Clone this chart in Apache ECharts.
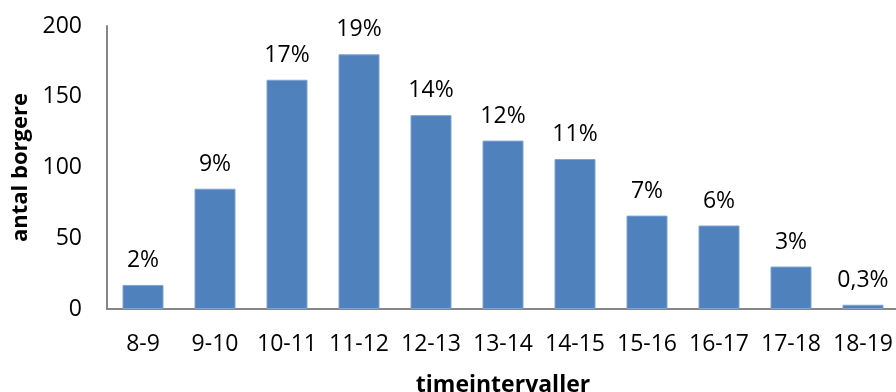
<!DOCTYPE html>
<html>
<head>
    <meta charset="utf-8">
    <script src="https://cdn.jsdelivr.net/npm/echarts@6/dist/echarts.min.js"></script>
</head>
<body style="margin:0;">
    <div id="main" style="width: 896px;height:392px;"></div>
    <script type="text/javascript">
        // timeintervaller og antal borgere
        var categories = ['8-9', '9-10', '10-11', '11-12', '12-13', '13-14', '14-15', '15-16', '16-17', '17-18', '18-19'];
        var values = [17, 85, 162, 180, 137, 119, 106, 66, 59, 30, 3];
        var percentLabels = ['2%', '9%', '17%', '19%', '14%', '12%', '11%', '7%', '6%', '3%', '0,3%'];
        var yTicks = [0, 50, 100, 150, 200];

        var myChart = echarts.init(document.getElementById('main'));
        var font = 'Open Sans';

        var option = {
            animation: false,
            grid: {
                left: 107,
                right: -3,
                top: 26,
                bottom: 83,
                containLabel: false,
                outerBoundsMode: 'none'
            },
            xAxis: {
                type: 'category',
                data: categories,
                name: 'timeintervaller',
                nameLocation: 'middle',
                nameGap: 65,
                nameTextStyle: { fontFamily: font, fontSize: 23, fontWeight: 'bold', color: '#000' },
                axisLine: { lineStyle: { color: '#868686', width: 2 } },
                axisTick: { show: false },
                axisLabel: { interval: 0, fontFamily: font, fontSize: 23, color: '#000', margin: 24 }
            },
            yAxis: {
                type: 'value',
                min: yTicks[0],
                max: yTicks[yTicks.length - 1],
                interval: 50,
                name: 'antal borgere',
                nameLocation: 'middle',
                nameGap: 75,
                nameTextStyle: { fontFamily: font, fontSize: 22, fontWeight: 'bold', color: '#000' },
                axisLine: { show: true, lineStyle: { color: '#868686', width: 2 } },
                axisTick: { show: false },
                splitLine: { show: false },
                axisLabel: { fontFamily: font, fontSize: 23, color: '#000', margin: 25 }
            },
            series: [
                {
                    type: 'bar',
                    data: values,
                    barWidth: 41,
                    itemStyle: { color: '#4F81BD', borderColor: '#7FA3D0', borderWidth: 1 },
                    label: {
                        show: true,
                        position: 'top',
                        distance: 13,
                        fontFamily: font,
                        fontSize: 23,
                        color: '#000',
                        formatter: function (p) { return percentLabels[p.dataIndex]; }
                    }
                }
            ]
        };

        myChart.setOption(option);
    </script>
</body>
</html>
